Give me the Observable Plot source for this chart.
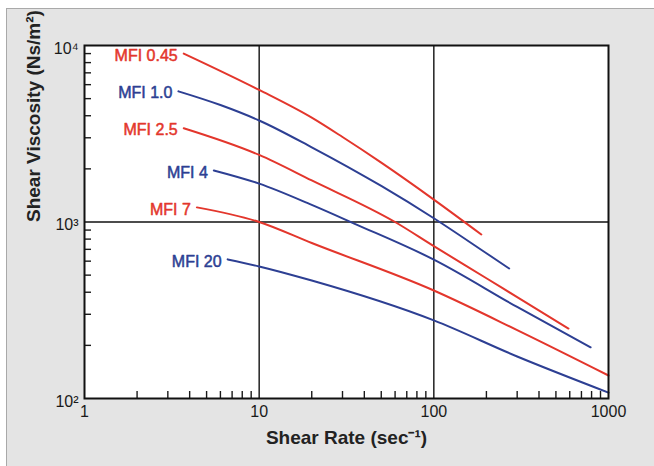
<!DOCTYPE html>
<html><head><meta charset="utf-8">
<script src="https://cdn.jsdelivr.net/npm/d3@7"></script>
<script src="https://cdn.jsdelivr.net/npm/@observablehq/plot@0.6"></script>
<style>
html,body{margin:0;padding:0;background:#fff;overflow:hidden}
#wrap{position:relative;width:654px;height:466px;overflow:hidden}
#bg{position:absolute;left:6px;top:8px;width:720px;height:520px;background:#e4e4e4;border:1px solid #a9a9a9}
#chart{position:absolute;left:0;top:0}
</style></head><body>
<div id="wrap"><div id="bg"></div><div id="chart"></div></div>
<script>
// Series names and colours
const series = ["MFI 0.45", "MFI 1.0", "MFI 2.5", "MFI 4", "MFI 7", "MFI 20"];
const colors = ["#e3362c", "#2d3f93", "#e3362c", "#2d3f93", "#e3362c", "#2d3f93"];

// Shear rate (sec^-1) and shear viscosity (Ns/m^2)
const rate045 = [3.7, 10, 20, 30, 50, 100, 187];
const visc045 = [9000, 5600, 3900, 3030, 2170, 1340, 850];
const rate10 = [3.45, 6, 10, 20, 50, 100, 200, 270];
const visc10 = [5500, 4600, 3760, 2650, 1600, 1050, 665, 545];
const rate25 = [3.7, 10, 20, 60, 100, 200, 300, 590];
const visc25 = [3400, 2400, 1720, 1000, 730, 480, 375, 249];
const rate4 = [5.5, 10, 20, 35, 100, 300, 790];
const visc4 = [1960, 1650, 1250, 980, 612, 330, 195];
const rate7 = [4.4, 10, 20, 100, 300, 1000];
const visc7 = [1210, 1000, 760, 409, 244, 135];
const rate20 = [6.6, 10, 20, 100, 300, 1000];
const visc20 = [614, 560, 466, 277, 173, 108];

// Axis ticks
const majorX = [1, 10, 100, 1000];
const majorY = [100, 1000, 10000];
const yTickLabels = ["10²", "10³", "10⁴"];
const minorX = [2,3,4,5,6,7,8,9,20,30,40,50,60,70,80,90,200,300,400,500,600,700,800,900];
const minorY = [200,300,400,500,600,700,800,900,2000,3000,4000,5000,6000,7000,8000,9000];
const gridX = [10, 100];
const gridY = [1000];
const xTitle = "Shear Rate (sec⁻¹)";
const yTitle = "Shear Viscosity (Ns/m²)";

const rates = [rate045, rate10, rate25, rate4, rate7, rate20];
const viscs = [visc045, visc10, visc25, visc4, visc7, visc20];
const data = [];
series.forEach((s, i) => rates[i].forEach((r, j) => data.push({series: s, rate: r, visc: viscs[i][j]})));
const starts = series.map((s, i) => ({series: s, rate: rates[i][0], visc: viscs[i][0]}));

const font = "'Liberation Sans', Arial, Helvetica, sans-serif";
const chart = Plot.plot({
  width: 654, height: 466,
  marginLeft: 84, marginRight: 46, marginTop: 45, marginBottom: 68,
  style: {background: "transparent", fontFamily: font, color: "#1a1a1a"},
  x: {type: "log", domain: [1, 1000], label: null},
  y: {type: "log", domain: [100, 10000], label: null},
  color: {domain: series, range: colors},
  marks: [
    Plot.frame({fill: "white"}),
    Plot.ruleX(gridX, {stroke: "#111", strokeWidth: 1.4}),
    Plot.ruleY(gridY, {stroke: "#111", strokeWidth: 1.4}),
    Plot.axisX(minorX, {tickSize: -7, tickFormat: () => "", strokeWidth: 1.4, label: null}),
    Plot.axisY(minorY, {tickSize: -7, tickFormat: () => "", strokeWidth: 1.4, label: null}),
    Plot.axisX(majorX, {tickSize: 0, tickPadding: 7, fontSize: 16, tickFormat: d => String(d), label: null, stroke: "#1a1a1a", strokeWidth: 0.3}),
    Plot.axisY(majorY, {tickSize: 0, tickPadding: 6, fontSize: 16, dy: 3, tickFormat: d => yTickLabels[majorY.indexOf(d)], label: null, stroke: "#1a1a1a", strokeWidth: 0.4}),
    Plot.line(data, {x: "rate", y: "visc", z: "series", stroke: "series", strokeWidth: 2, curve: "monotone-x"}),
    Plot.text(starts, {x: "rate", y: "visc", text: "series", fill: "series", stroke: "series", strokeWidth: 0.5, textAnchor: "end", dx: -6, dy: 2, fontSize: 16}),
    Plot.frame({stroke: "#111", strokeWidth: 2}),
    Plot.text([xTitle], {frameAnchor: "bottom", dy: 45, fontSize: 19, fontWeight: "bold", fill: "#222"}),
    Plot.text([yTitle], {frameAnchor: "left", dx: -51, rotate: -90, fontSize: 19, fontWeight: "bold", fill: "#222"})
  ]
});
document.getElementById("chart").appendChild(chart);
</script>
</body></html>
